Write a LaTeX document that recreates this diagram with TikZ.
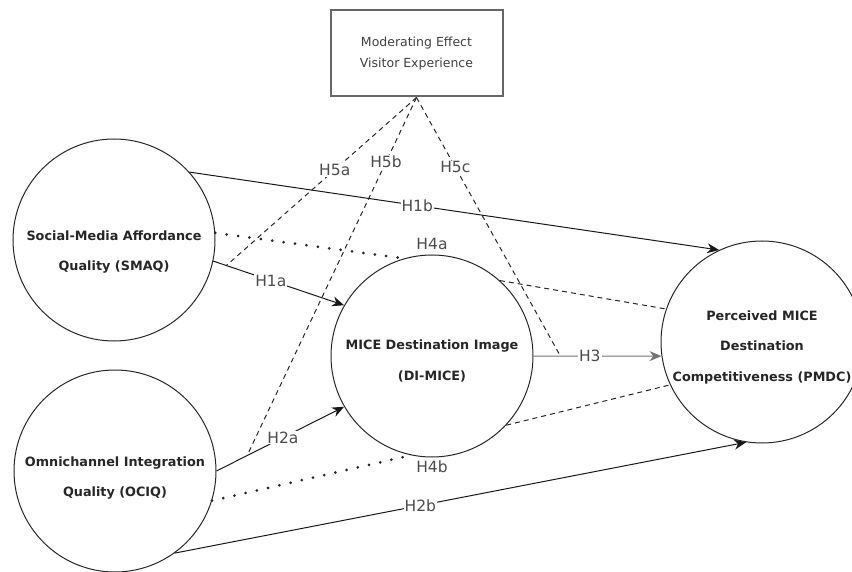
\documentclass[tikz,border=0pt]{standalone}
\usepackage{fontspec}
\setmainfont{DejaVu Sans}
\usetikzlibrary{arrows.meta,positioning}

\begin{document}
\begin{tikzpicture}[x=1pt, y=-1pt, >={Stealth[length=12pt,width=10pt]},
  construct/.style={draw=black!85, circle, line width=1pt, minimum size=202pt, inner sep=0pt},
  ctext/.style={font=\bfseries\fontsize{12.8}{30.5}\selectfont, align=center, text=black!85, inner sep=0pt},
  modbox/.style={draw=black!60, line width=2pt, minimum width=172pt, minimum height=86pt,
    align=center, font=\fontsize{12.5}{21}\selectfont, text=black!75},
  lbl/.style={fill=white, inner sep=1pt, font=\fontsize{15.5}{18}\selectfont, text=black!70},
  path/.style={->, line width=1pt, draw=black!90},
  dotline/.style={line width=3pt, line cap=round, dash pattern=on 0pt off 11.5pt, draw=black!85},
  dashline/.style={line width=1pt, dash pattern=on 5pt off 4pt, draw=black!85}]
  \useasboundingbox (0,0) rectangle (852,572);

  % constructs
  \node[construct] (smaq) at (114,240) {};
  \node[construct] (ociq) at (115,471) {};
  \node[construct] (dimice) at (432,356) {};
  \node[construct] (pmdc) at (762,342) {};
  \node[ctext] (smaqtext) at ([yshift=-12pt]smaq.center) {Social-Media Affordance\\Quality (SMAQ)};
  \node[ctext] (ociqtext) at ([yshift=-7pt]ociq.center) {Omnichannel Integration\\Quality (OCIQ)};
  \node[ctext] (dimicetext) at ([yshift=-5pt]dimice.center) {MICE Destination Image\\(DI-MICE)};
  \node[ctext] (pmdctext) at ([yshift=-5pt]pmdc.center) {Perceived MICE\\Destination\\Competitiveness (PMDC)};
  \node[modbox] (mod) at (416.5,53.5) {Moderating Effect\\Visitor Experience};

  % direct paths
  \draw[path] (smaq.-12) -- coordinate[pos=0.1] (h1apt) node[lbl, pos=0.44] {H1a} (dimice.150);
  \draw[path] (ociq.0) -- coordinate[pos=0.24] (h2apt) node[lbl, pos=0.52] {H2a} (dimice.210);
  \draw[path, draw=black!55] (dimice.east) -- coordinate[pos=0.21] (h3pt) node[lbl, pos=0.44] {H3} (pmdc.188);

  % moderation
  \draw[dashline] (mod.south) -- node[lbl, pos=0.43] {H5a} (h1apt);
  \draw[dashline] (mod.south) -- node[lbl, pos=0.18] {H5b} (h2apt);
  \draw[dashline] (mod.south) -- node[lbl, pos=0.27] {H5c} (h3pt);

  \draw[path] (smaq.42) -- node[lbl, pos=0.43] {H1b} (pmdc.115);
  \draw[path] (ociq.-54) -- node[lbl, pos=0.43] {H2b} (pmdc.-99);

  % mediation
  \draw[dotline] (smaq.4.5) -- (dimice.106);
  \draw[dotline] (ociq.-17) -- (dimice.-102);
  \node[lbl, above=4pt of dimice.north] (h4alabel) {H4a};
  \node[lbl, below=2pt of dimice.south] (h4blabel) {H4b};
  \draw[dashline] (dimice.48) -- (pmdc.161);
  \draw[dashline] (dimice.-43) -- (pmdc.205);
\end{tikzpicture}
\end{document}
